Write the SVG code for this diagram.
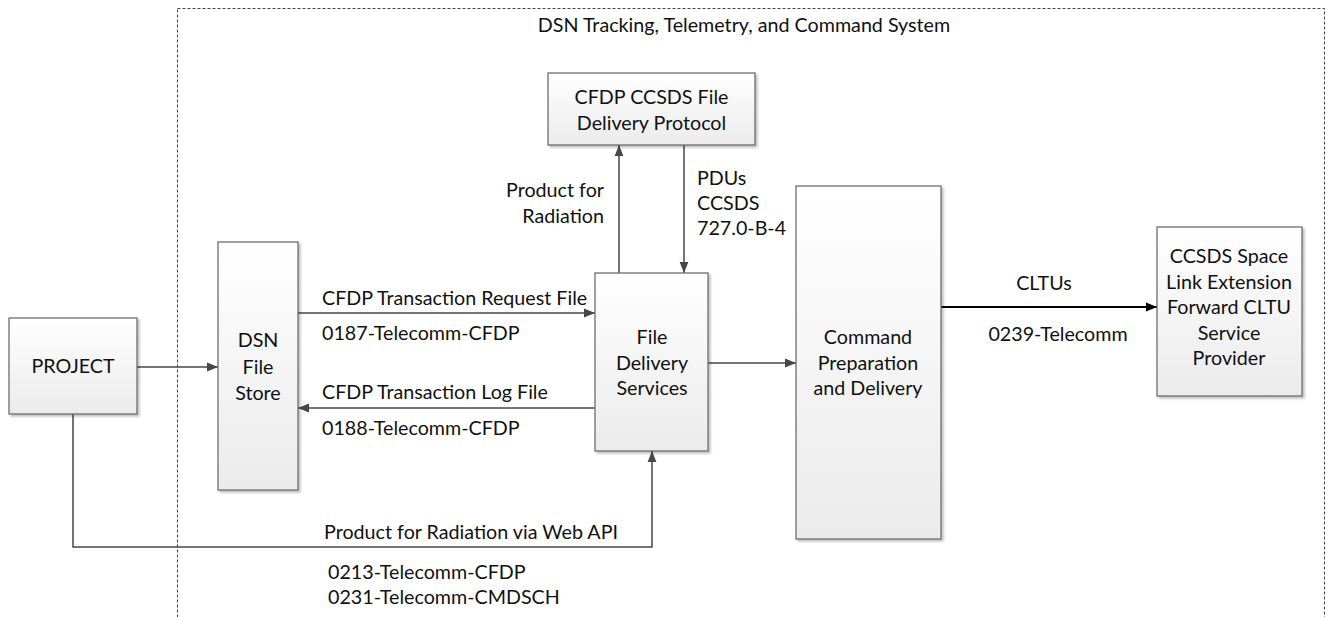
<svg xmlns="http://www.w3.org/2000/svg" width="1332" height="617" viewBox="0 0 1332 617">
<style>
text{font-family:Lato,"Liberation Sans",sans-serif;font-size:19.7px;fill:#111}
.c{text-anchor:middle}
.box{fill:url(#g);stroke:#6e6e6e;stroke-width:1.3;filter:url(#sh)}
.ln{fill:none;stroke:#474747;stroke-width:1.5;marker-end:url(#a)}
.blk{fill:none;stroke:#000;stroke-width:2;marker-end:url(#ab)}
</style>
<defs>
<linearGradient id="g" x1="0" y1="0" x2="0" y2="1"><stop offset="0" stop-color="#ffffff"/><stop offset="1" stop-color="#ebebeb"/></linearGradient>
<filter id="sh" x="-10%" y="-10%" width="130%" height="130%"><feDropShadow dx="2" dy="2" stdDeviation="1.2" flood-color="#000" flood-opacity="0.25"/></filter>
<marker id="a" viewBox="0 0 10 10" refX="10" refY="5" markerWidth="11" markerHeight="11" markerUnits="userSpaceOnUse" orient="auto"><path d="M0,1 L10,5 L0,9 Z" fill="#474747"/></marker>
<marker id="ab" viewBox="0 0 10 10" refX="10" refY="5" markerWidth="11" markerHeight="11" markerUnits="userSpaceOnUse" orient="auto"><path d="M0,1 L10,5 L0,9 Z" fill="#000"/></marker>
</defs>
<rect width="1332" height="617" fill="#fff"/>
<g id="system-boundary">
<rect x="177.5" y="8.5" width="1147" height="700" fill="none" stroke="#444" stroke-width="1" stroke-dasharray="3,2"/>
<text class="c" x="744" y="32">DSN Tracking, Telemetry, and Command System</text>
</g>
<g id="connectors">
<path class="ln" d="M137,367 H218"/>
<path class="ln" d="M298,313 H595"/>
<path class="ln" d="M595,408 H298"/>
<path class="ln" d="M619,273 V145"/>
<path class="ln" d="M684,145 V273"/>
<path class="ln" d="M708,363 H796"/>
<path class="blk" d="M941,307 H1157"/>
<path class="ln" d="M73,414 V547 H652 V451"/>
<text x="322" y="305">CFDP Transaction Request File</text>
<text x="322" y="340">0187-Telecomm-CFDP</text>
<text x="322" y="399">CFDP Transaction Log File</text>
<text x="322" y="435">0188-Telecomm-CFDP</text>
<text x="324" y="539">Product for Radiation via Web API</text>
<text x="328" y="579">0213-Telecomm-CFDP</text>
<text x="328" y="604">0231-Telecomm-CMDSCH</text>
<text x="604" y="197" text-anchor="end">Product for</text>
<text x="604" y="223" text-anchor="end">Radiation</text>
<text x="697" y="185">PDUs</text>
<text x="697" y="210">CCSDS</text>
<text x="697" y="235">727.0-B-4</text>
<text class="c" x="1044" y="290">CLTUs</text>
<text class="c" x="1058" y="341">0239-Telecomm</text>
</g>
<g id="project">
<rect class="box" x="9" y="318" width="128" height="96"/>
<text class="c" x="73" y="373">PROJECT</text>
</g>
<g id="dsn-file-store">
<rect class="box" x="218" y="242" width="80" height="248"/>
<text class="c" x="258" y="347">DSN</text>
<text class="c" x="258" y="374">File</text>
<text class="c" x="258" y="400">Store</text>
</g>
<g id="cfdp">
<rect class="box" x="548" y="73" width="207" height="72"/>
<text class="c" x="651.5" y="104">CFDP CCSDS File</text>
<text class="c" x="651.5" y="130">Delivery Protocol</text>
</g>
<g id="file-delivery-services">
<rect class="box" x="595" y="273" width="113" height="178"/>
<text class="c" x="652" y="344">File</text>
<text class="c" x="652" y="370">Delivery</text>
<text class="c" x="652" y="395">Services</text>
</g>
<g id="command-preparation">
<rect class="box" x="796" y="186" width="145" height="353"/>
<text class="c" x="868" y="344">Command</text>
<text class="c" x="868" y="370">Preparation</text>
<text class="c" x="868" y="395">and Delivery</text>
</g>
<g id="ccsds-sle">
<rect class="box" x="1157" y="227" width="145" height="169"/>
<text class="c" x="1229" y="263">CCSDS Space</text>
<text class="c" x="1229" y="289">Link Extension</text>
<text class="c" x="1229" y="314">Forward CLTU</text>
<text class="c" x="1229" y="340">Service</text>
<text class="c" x="1229" y="365">Provider</text>
</g>
</svg>
